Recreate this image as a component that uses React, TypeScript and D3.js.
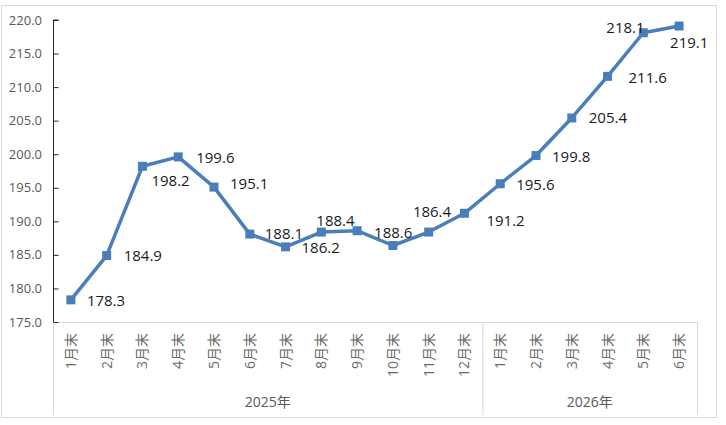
import React, { useRef, useEffect } from "react";
import * as d3 from "d3";

// balance at month end, 2025-01 .. 2026-06
const months2025 = ["1月末", "2月末", "3月末", "4月末", "5月末", "6月末", "7月末", "8月末", "9月末", "10月末", "11月末", "12月末"];
const months2026 = ["1月末", "2月末", "3月末", "4月末", "5月末", "6月末"];
const years = ["2025年", "2026年"];
const values = [178.3, 184.9, 198.2, 199.6, 195.1, 188.1, 186.2, 188.4, 188.6, 186.4, 188.4, 191.2, 195.6, 199.8, 205.4, 211.6, 218.1, 219.1];
// the 11月末 point carries no label in the original
const labels: (string | null)[] = ["178.3", "184.9", "198.2", "199.6", "195.1", "188.1", "186.2", "188.4", "188.6", "186.4", null, "191.2", "195.6", "199.8", "205.4", "211.6", "218.1", "219.1"];
const yTicks = [175, 180, 185, 190, 195, 200, 205, 210, 215, 220];

// hand-placed label offsets (dx to left edge, dy to middle)
const labelOffsets: [number, number][] = [
  [16, 1], [17, 0], [9, 14], [18, 1], [16, -3], [15, 0], [16, 1], [-5, -11], [17, 2],
  [20, -34], [0, 0], [22, 7], [16, 1], [16, 1], [17, 0], [21, 1], [-37, -5], [-9, 17],
];

export default function App() {
  const svgRef = useRef<SVGSVGElement>(null);
  const width = 726;
  const height = 425;

  useEffect(() => {
    document.body.style.margin = "0";
    const marginLeft = 53;
    const plotRight = 697;
    const marginTop = 20;
    const plotBottom = 322;
    const frameBottom = 415;

    const cats = [...months2025.map((m, i) => `a${i}`), ...months2026.map((m, i) => `b${i}`)];
    const names = [...months2025, ...months2026];

    const x = d3.scaleBand().domain(cats).range([marginLeft, plotRight]).padding(0);
    const y = d3.scaleLinear().domain([175, 220]).range([plotBottom, marginTop]);
    const cx = (i: number) => x(cats[i])! + x.bandwidth() / 2;

    const svg = d3.select(svgRef.current)
      .attr("viewBox", `0 0 ${width} ${height}`)
      .attr("width", width)
      .attr("height", height)
      .style("display", "block")
      .style("font-family", "'Open Sans', 'Noto Sans CJK SC', sans-serif");

    svg.selectAll("*").remove();

    svg.append("rect")
      .attr("x", 1.5).attr("y", 5.5)
      .attr("width", 715).attr("height", 412)
      .attr("fill", "white")
      .attr("stroke", "#d9d9d9");

    // category axis: baseline and group separators
    const grid = "#d9d9d9";
    svg.append("line")
      .attr("x1", marginLeft).attr("x2", plotRight)
      .attr("y1", plotBottom + 0.5).attr("y2", plotBottom + 0.5)
      .attr("stroke", grid);
    const seps = [marginLeft, x(`b0`)!, plotRight];
    svg.selectAll("line.sep").data(seps).join("line")
      .attr("class", "sep")
      .attr("x1", (d) => d + 0.5).attr("x2", (d) => d + 0.5)
      .attr("y1", plotBottom).attr("y2", frameBottom)
      .attr("stroke", grid);

    svg.selectAll("text.month").data(names).join("text")
      .attr("class", "month")
      .attr("transform", (d, i) => `translate(${cx(i) + 5},${plotBottom + 11}) rotate(-90)`)
      .attr("text-anchor", "end")
      .attr("font-size", 14)
      .attr("fill", "#6b6b6b")
      .text((d) => d);

    const yearCenters = [(marginLeft + x("b0")!) / 2, (x("b0")! + plotRight) / 2];
    svg.selectAll("text.year").data(years).join("text")
      .attr("class", "year")
      .attr("x", (d, i) => yearCenters[i])
      .attr("y", 407)
      .attr("text-anchor", "middle")
      .attr("font-size", 14)
      .attr("fill", "#595959")
      .text((d) => d);

    // value axis
    const yAxis = svg.append("g")
      .attr("transform", `translate(${marginLeft + 0.5},0)`)
      .call(d3.axisRight(y).tickValues(yTicks).tickSize(5).tickFormat(() => ""));
    yAxis.select(".domain").attr("stroke", "#262626").attr("d", `M5,${y(220)}H0V${plotBottom}`);
    yAxis.selectAll(".tick line").attr("stroke", "#262626");

    svg.selectAll("text.ytick").data(yTicks).join("text")
      .attr("class", "ytick")
      .attr("x", 42)
      .attr("y", (d) => y(d))
      .attr("dy", "0.35em")
      .attr("text-anchor", "end")
      .attr("font-size", 13)
      .attr("fill", "#595959")
      .text((d) => d.toFixed(1));

    const color = "#4a7ebb";
    const line = d3.line<number>().x((d, i) => cx(i)).y((d) => y(d));
    svg.append("path")
      .datum(values)
      .attr("fill", "none")
      .attr("stroke", color)
      .attr("stroke-width", 3.5)
      .attr("stroke-linejoin", "round")
      .attr("d", line);

    svg.selectAll("rect.marker").data(values).join("rect")
      .attr("class", "marker")
      .attr("x", (d, i) => cx(i) - 4.5)
      .attr("y", (d) => y(d) - 4.5)
      .attr("width", 9).attr("height", 9)
      .attr("fill", color);

    svg.selectAll("text.label").data(labels).join("text")
      .attr("class", "label")
      .attr("x", (d, i) => cx(i) + labelOffsets[i][0])
      .attr("y", (d, i) => y(values[i]) + labelOffsets[i][1])
      .attr("dy", "0.35em")
      .attr("font-size", 15)
      .attr("fill", "#1a1a1a")
      .text((d) => d ?? "");
  }, []);

  return <svg ref={svgRef}></svg>;
}
